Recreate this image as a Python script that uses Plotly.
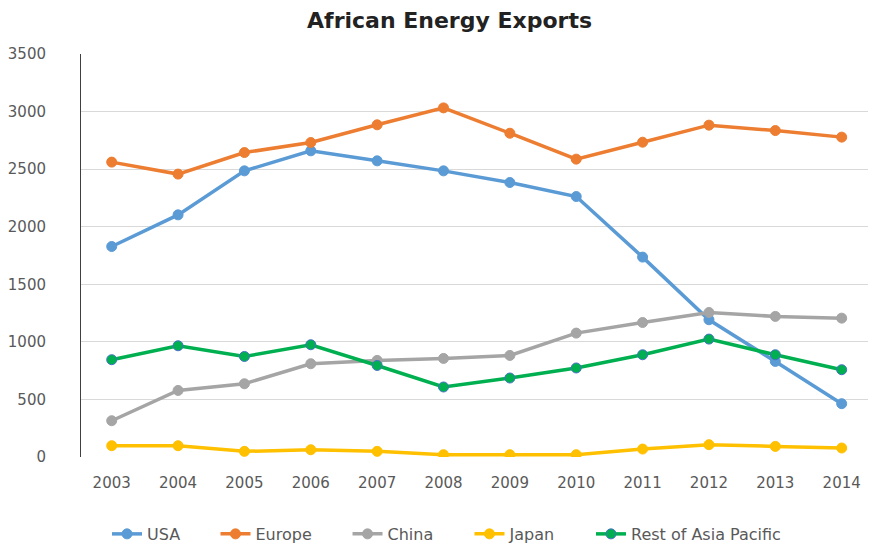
import plotly.graph_objects as go

years = ["2003", "2004", "2005", "2006", "2007", "2008", "2009", "2010", "2011", "2012", "2013", "2014"]
usa = [1828, 2103, 2485, 2659, 2572, 2485, 2384, 2262, 1736, 1192, 830, 463]
europe = [2561, 2457, 2644, 2731, 2885, 3032, 2812, 2587, 2734, 2882, 2835, 2778]
china = [315, 578, 636, 810, 839, 856, 882, 1076, 1168, 1255, 1221, 1206]
japan = [98, 98, 49, 63, 49, 20, 20, 20, 69, 107, 92, 78]
rest_asia = [845, 966, 873, 975, 795, 608, 686, 773, 888, 1024, 888, 758]

series = [
    ("USA", usa, "#5B9BD5", "#5B9BD5"),
    ("Europe", europe, "#ED7D31", "#ED7D31"),
    ("China", china, "#A5A5A5", "#A5A5A5"),
    ("Japan", japan, "#FFC000", "#FFC000"),
    ("Rest of Asia Pacific", rest_asia, "#00B050", "#4472C4"),
]
legend_x = [0.0328, 0.1696, 0.3361, 0.4899, 0.6431]

font_family = "DejaVu Sans"
fig = go.Figure()
layout_legends = {}
for i, (name, vals, color, mline) in enumerate(series):
    lname = "legend" if i == 0 else f"legend{i + 1}"
    fig.add_trace(go.Scatter(
        x=list(range(len(years))), y=vals, name=name, mode="lines+markers",
        line=dict(color=color, width=3.5),
        marker=dict(color=color, size=10, line=dict(color=mline, width=1)),
        legend=lname,
    ))
    layout_legends[lname] = dict(
        orientation="h", x=legend_x[i], xanchor="left", y=-0.191, yanchor="middle",
        font=dict(family=font_family, size=16, color="#595959"),
        bgcolor="rgba(0,0,0,0)",
    )

fig.update_layout(
    width=868, height=540,
    margin=dict(l=73, r=2, t=46, b=91, autoexpand=False),
    paper_bgcolor="white", plot_bgcolor="white",
    title=dict(text="<b>African Energy Exports</b>", x=0.5087, xanchor="center",
               y=0.978, yanchor="middle",
               font=dict(family=font_family, size=22, color="#222222")),
    showlegend=True,
    font=dict(family=font_family, color="#595959"),
    **layout_legends,
)
fig.update_xaxes(
    tickmode="array", tickvals=list(range(len(years))), ticktext=years,
    range=[-0.4626, 11.487], showgrid=False, zeroline=False, showline=False,
    tickfont=dict(family=font_family, size=15, color="#595959"), ticks="", ticklen=0,
    ticklabelstandoff=15, automargin=False,
)
fig.update_yaxes(
    range=[0, 3500], tickvals=[0, 500, 1000, 1500, 2000, 2500, 3000, 3500],
    showgrid=True, gridcolor="#D9D9D9", gridwidth=1, zeroline=False,
    showline=True, linecolor="#404040", linewidth=1, mirror=True,
    tickfont=dict(family=font_family, size=15, color="#595959"), ticks="",
    ticklabelstandoff=31, automargin=False,
)
fig.write_html("out.html")
